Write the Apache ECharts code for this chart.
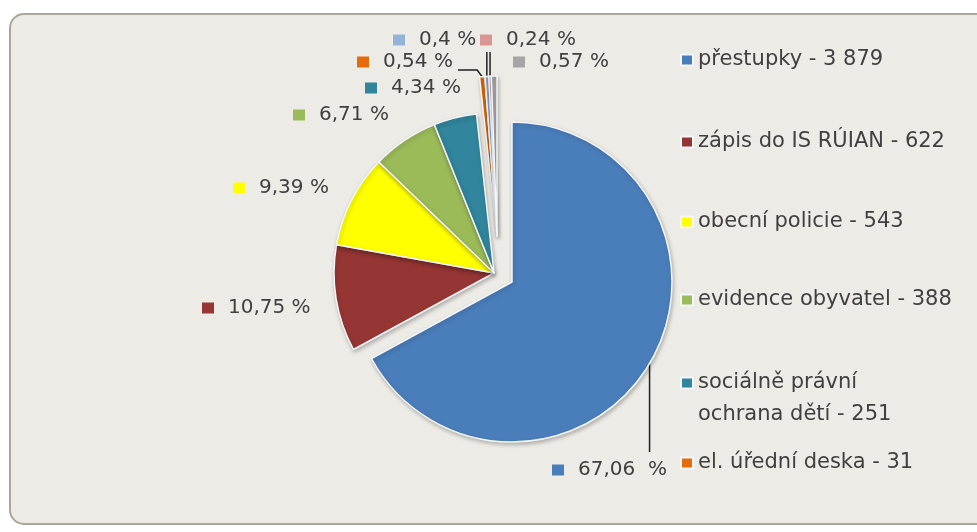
<!DOCTYPE html>
<html><head><meta charset="utf-8">
<script src="https://cdn.jsdelivr.net/npm/echarts@6/dist/echarts.min.js"></script>
<style>
html,body{margin:0;padding:0;background:#fff;}
#wrap{position:relative;width:977px;height:532px;overflow:hidden;}
#bg{position:absolute;left:9px;top:13px;width:1000px;height:512px;border:2px solid #A9A69F;border-radius:15px;background:#EDEBE5;box-sizing:border-box;}
#c{position:absolute;left:0;top:0;width:977px;height:532px;}
</style>
</head><body>
<div id="wrap"><div id="bg"></div><div id="c"></div></div>
<script>
// ---- data ----
const categories = ['přestupky', 'zápis do IS RÚIAN', 'obecní policie', 'evidence obyvatel',
  'sociálně právní ochrana dětí', 'el. úřední deska', 'ostatní 1', 'ostatní 2', 'ostatní 3'];
const values = [3879, 622, 543, 388, 251, 31, 23, 14, 33];
const legendCount = 6; // only the first six entries are visible in the legend

// ---- styles / layout ----
const colors = ['#4A7EBB', '#963634', '#FFFF00', '#9BBB59', '#31859C', '#E46C0A', '#95B3D7', '#D99694', '#A5A5A5'];
const groupOf = ['main', 'mid', 'mid', 'mid', 'mid', 'tiny', 'tiny', 'tiny', 'tiny'];
const groupCenter = { main: [512, 282], mid: [494, 273], tiny: [497, 236] };
const pieRadius = 160;
const labelAnchor = [[552, 470], [202, 308], [233, 188], [293, 115], [365, 88], [357, 62], [393, 40], [480, 40], [513, 62]];
const lineItems = { 0: 'down', 5: 'elbow', 6: 'up', 7: 'up' };
const legendTops = [48, 130, 210, 288, 335, 451];
const wrapItem = 4; // legend entry that wraps onto two lines
const txt = '#404040';
const font = 'DejaVu Sans';

function fmtNum(v) { return String(v).replace(/\B(?=(\d{3})+(?!\d))/g, ' '); }

const rich = { t: { fontFamily: font, fontSize: 20, color: txt, padding: [0, 0, 0, 14], verticalAlign: 'middle', lineHeight: 24 } };
colors.forEach((c, i) => { rich['k' + i] = { width: 12, height: 11, backgroundColor: c, verticalAlign: 'middle' }; });

function makeSeries(group) {
  return {
    type: 'pie', radius: pieRadius, center: groupCenter[group], startAngle: 90, clockwise: true,
    animation: false, silent: true, avoidLabelOverlap: false, percentPrecision: 2,
    label: {
      show: true, position: 'outside',
      formatter: p => '{k' + p.dataIndex + '|}{t|' + String(p.percent).replace('.', ',') + (p.dataIndex === 0 ? '  %' : ' %') + '}',
      rich: rich
    },
    labelLine: { show: false, length: 10, length2: 10, lineStyle: { color: '#202020', width: 1.5 } },
    labelLayout: function (params) {
      const i = params.dataIndex;
      const a = labelAnchor[i];
      if (!a) return {};
      const out = { x: a[0], y: a[1], align: 'left', verticalAlign: 'middle' };
      const kind = lineItems[i];
      const pts = params.labelLinePoints;
      if (kind && pts && pts[0]) {
        const p0 = pts[0];
        if (kind === 'down') out.labelLinePoints = [p0, [p0[0], a[1] - 18], [p0[0], a[1] - 18]];
        else if (kind === 'up') out.labelLinePoints = [p0, [p0[0], a[1] + 12], [p0[0], a[1] + 12]];
        else if (kind === 'elbow') out.labelLinePoints = [p0, [p0[0] - 5, a[1] + 8], [a[0] + 101, a[1] + 8]];
      }
      return out;
    },
    data: values.map((v, i) => {
      const on = groupOf[i] === group;
      return {
        name: on ? categories[i] : '',
        value: v,
        itemStyle: on
          ? { color: colors[i], borderColor: '#F4F6FA', borderWidth: 1.5, shadowBlur: 4, shadowColor: 'rgba(0,0,0,0.25)', shadowOffsetX: 1, shadowOffsetY: 2 }
          : { color: 'transparent', borderWidth: 0 },
        label: { show: on },
        labelLine: { show: on && !!lineItems[i] }
      };
    })
  };
}

const legends = [];
for (let i = 0; i < legendCount; i++) {
  const item = { name: categories[i], itemStyle: { color: colors[i] } };
  const wraps = i === wrapItem;
  if (wraps) item.textStyle = { width: 240, overflow: 'break', lineHeight: 32 };
  legends.push({
    orient: 'vertical', left: 680, top: legendTops[i], padding: 0, itemGap: 0,
    itemWidth: 12, itemHeight: 11, icon: 'rect', selectedMode: false,
    textStyle: { fontFamily: font, fontSize: 21, color: txt, lineHeight: 24 },
    // a wrapped entry gets an empty first line so its key sits beside its first text line
    formatter: name => (wraps ? '\n' : '') + name + ' - ' + fmtNum(values[categories.indexOf(name)]),
    data: [item]
  });
}

const chart = echarts.init(document.getElementById('c'), null, { renderer: 'canvas' });
chart.setOption({
  backgroundColor: 'transparent',
  animation: false,
  legend: legends,
  series: [makeSeries('mid'), makeSeries('tiny'), makeSeries('main')]
});
</script>
</body></html>
